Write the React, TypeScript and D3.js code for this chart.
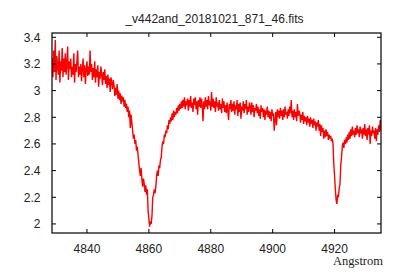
import React from "react";
import * as d3 from "d3";

// spectrum: wavelength grid from FITS header (start + step), flux
const lambdaStart = 4828.75;
const lambdaStep = 0.25;
const flux = [
  3.24, 3.1, 3.3, 3.14, 3.38, 3.08, 3.26, 3.18,
  3.12, 3.3, 3.06, 3.22, 3.15, 3.32, 3.1, 3.24,
  3.14, 3.28, 3.12, 3.2, 3.33, 3.08, 3.22, 3.16,
  3.24, 3.1, 3.18, 3.12, 3.28, 3.06, 3.2, 3.14,
  3.22, 3.3, 3.1, 3.18, 3.12, 3.2, 3.07, 3.16,
  3.24, 3.1, 3.19, 3.05, 3.16, 3.22, 3.11, 3.18,
  3.12, 3.3, 3.14, 3.2, 3.08, 3.17, 3.1, 3.22,
  3.06, 3.16, 3.1, 3.19, 3.03, 3.14, 3.09, 3.18,
  3.12, 3.04, 3.14, 3.08, 3.16, 3.05, 3.11, 3.02,
  3.12, 3.04, 3.09, 2.99, 3.1, 3.06, 3.01, 3.08,
  3.04, 2.96, 3.02, 2.97, 3.05, 2.94, 3.0, 2.93,
  2.98, 2.9, 2.96, 2.92, 2.95, 2.88, 2.93, 2.87,
  2.9, 2.84, 2.88, 2.8, 2.85, 2.72, 2.82, 2.76,
  2.7, 2.64, 2.67, 2.6, 2.63, 2.55, 2.58, 2.52,
  2.46, 2.4, 2.36, 2.42, 2.33, 2.28, 2.34, 2.3,
  2.24, 2.29, 2.22, 2.26, 2.1, 2.04, 1.98, 2.02,
  2.0, 2.06, 2.2, 2.22, 2.26, 2.23, 2.28, 2.36,
  2.4, 2.36, 2.44, 2.42, 2.48, 2.5, 2.58, 2.62,
  2.6, 2.67, 2.65, 2.7, 2.68, 2.74, 2.71, 2.78,
  2.75, 2.8, 2.77, 2.83, 2.78, 2.85, 2.8, 2.84,
  2.82, 2.87, 2.83, 2.89, 2.85, 2.9, 2.86, 2.92,
  2.87, 2.93, 2.88, 2.95, 2.86, 2.92, 2.89, 2.94,
  2.85, 2.93, 2.88, 2.96, 2.87, 2.91, 2.84, 2.94,
  2.89, 2.95, 2.86, 2.92, 2.82, 2.93, 2.88, 2.95,
  2.87, 2.94, 2.89, 2.77, 2.92, 2.86, 2.95, 2.88,
  2.93, 2.86, 2.96, 2.89, 2.92, 2.85, 2.99, 2.88,
  2.94, 2.87, 2.92, 2.84, 2.95, 2.88, 2.91, 2.85,
  2.93, 2.86, 2.9, 2.83, 2.94, 2.87, 2.92, 2.84,
  2.89, 2.83, 2.91, 2.85, 2.78, 2.9, 2.86, 2.93,
  2.84, 2.9, 2.85, 2.92, 2.82, 2.89, 2.86, 2.93,
  2.81, 2.9, 2.84, 2.91, 2.79, 2.88, 2.85, 2.92,
  2.83, 2.9, 2.86, 2.93, 2.82, 2.88, 2.84, 2.91,
  2.88, 2.82, 2.91, 2.84, 2.89, 2.8, 2.87, 2.85,
  2.9, 2.83, 2.88, 2.81, 2.86, 2.79, 2.89, 2.84,
  2.87, 2.8, 2.86, 2.78, 2.85, 2.82, 2.88, 2.8,
  2.85, 2.79, 2.84, 2.77, 2.86, 2.81, 2.83, 2.7,
  2.78, 2.84, 2.74, 2.86, 2.8, 2.85, 2.79, 2.87,
  2.81, 2.85, 2.78, 2.86, 2.8, 2.88, 2.82, 2.84,
  2.79, 2.86, 2.81, 2.88, 2.83, 2.93, 2.8, 2.85,
  2.78, 2.86, 2.8, 2.84, 2.77, 2.9, 2.81, 2.85,
  2.83, 2.76, 2.82, 2.78, 2.84, 2.75, 2.81, 2.77,
  2.8, 2.74, 2.81, 2.76, 2.79, 2.73, 2.8, 2.75,
  2.78, 2.72, 2.79, 2.74, 2.77, 2.7, 2.76, 2.73,
  2.78, 2.7, 2.75, 2.66, 2.74, 2.69, 2.72, 2.64,
  2.7, 2.65, 2.71, 2.66, 2.69, 2.63, 2.67, 2.64,
  2.66, 2.62, 2.64, 2.6, 2.45, 2.36, 2.26, 2.18,
  2.15, 2.22, 2.2, 2.27, 2.3, 2.44, 2.5, 2.58,
  2.61, 2.57, 2.63, 2.6, 2.65, 2.61, 2.67, 2.63,
  2.69, 2.64, 2.71, 2.66, 2.73, 2.67, 2.7, 2.65,
  2.72, 2.67, 2.74, 2.68, 2.71, 2.65, 2.73, 2.69,
  2.7, 2.64, 2.72, 2.67, 2.75, 2.66, 2.71, 2.63,
  2.72, 2.67, 2.74, 2.6, 2.7, 2.66, 2.73, 2.68,
  2.7, 2.64, 2.72, 2.62, 2.71, 2.67, 2.74, 2.69,
  2.78, 2.7,
];

const xTicks = [4840, 4860, 4880, 4900, 4920];
const yTicks = [2, 2.2, 2.4, 2.6, 2.8, 3, 3.2, 3.4];
const title = "_v442and_20181021_871_46.fits";
const xLabel = "Angstrom";

export default function App() {
  const width = 400;
  const height = 280;
  const m = { top: 33, right: 19, bottom: 47, left: 52 };

  const x = d3.scaleLinear().domain([4828.7, 4935]).range([m.left, width - m.right]);
  const y = d3.scaleLinear().domain([1.932, 3.432]).range([height - m.bottom, m.top]);

  const pts = flux.map((f, i) => [lambdaStart + i * lambdaStep, f] as [number, number]);
  const line = d3.line<[number, number]>().x((d) => x(d[0])).y((d) => y(d[1]));

  const x0 = m.left, x1 = width - m.right, y0 = m.top, y1 = height - m.bottom;
  const tl = 4;
  const font = "'Liberation Sans', Arial, sans-serif";

  return (
    <svg width={width} height={height} style={{ position: "absolute", left: 0, top: 0, background: "#fff" }}>
      <text x={214.5} y={22.5} textAnchor="middle" fontFamily={font} fontSize={12} fill="#222">
        {title}
      </text>
      <defs>
        <clipPath id="plot">
          <rect x={x0} y={y0} width={x1 - x0} height={y1 - y0} />
        </clipPath>
      </defs>
      <path d={line(pts) || ""} fill="none" stroke="#ff0000" strokeWidth={1.4} strokeLinejoin="miter" clipPath="url(#plot)" />
      <rect x={x0} y={y0} width={x1 - x0} height={y1 - y0} fill="none" stroke="#000" strokeWidth={1.2} />
      {xTicks.map((t) => (
        <g key={"x" + t}>
          <line x1={x(t)} x2={x(t)} y1={y1} y2={y1 - tl} stroke="#000" />
          <line x1={x(t)} x2={x(t)} y1={y0} y2={y0 + tl} stroke="#000" />
          <text x={x(t)} y={252.5} textAnchor="middle" fontFamily={font} fontSize={12} fill="#222">
            {t}
          </text>
        </g>
      ))}
      {yTicks.map((t) => (
        <g key={"y" + t}>
          <line x1={x0} x2={x0 + tl} y1={y(t)} y2={y(t)} stroke="#000" />
          <line x1={x1} x2={x1 - tl} y1={y(t)} y2={y(t)} stroke="#000" />
          <text x={40.5} y={y(t)} dy="0.36em" textAnchor="end" fontFamily={font} fontSize={12} fill="#222">
            {d3.format("~g")(t)}
          </text>
        </g>
      ))}
      <text x={383} y={265} textAnchor="end" fontFamily="'Liberation Serif', 'Times New Roman', serif" fontSize={12.5} fill="#222">
        {xLabel}
      </text>
    </svg>
  );
}
